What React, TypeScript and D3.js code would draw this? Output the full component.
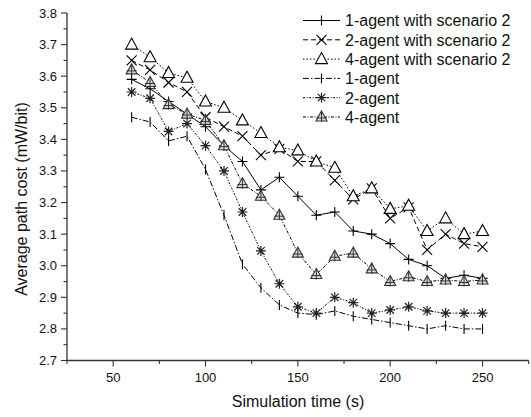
import React, { useEffect, useRef } from "react";
import * as d3 from "d3";

const times = [60, 70, 80, 90, 100, 110, 120, 130, 140, 150, 160, 170, 180, 190, 200, 210, 220, 230, 240, 250];

const oneAgentSc2 = [3.59, 3.56, 3.52, 3.48, 3.44, 3.38, 3.33, 3.24, 3.28, 3.22, 3.16, 3.17, 3.11, 3.10, 3.07, 3.02, 3.00, 2.96, 2.97, 2.96];
const twoAgentSc2 = [3.65, 3.62, 3.58, 3.55, 3.47, 3.44, 3.41, 3.35, 3.37, 3.33, 3.33, 3.27, 3.21, 3.245, 3.15, 3.185, 3.05, 3.10, 3.07, 3.06];
const fourAgentSc2 = [3.70, 3.66, 3.61, 3.595, 3.52, 3.50, 3.46, 3.42, 3.375, 3.365, 3.33, 3.31, 3.22, 3.245, 3.18, 3.19, 3.11, 3.15, 3.10, 3.11];
const oneAgent = [3.47, 3.455, 3.395, 3.41, 3.305, 3.16, 3.005, 2.93, 2.876, 2.85, 2.845, 2.857, 2.84, 2.83, 2.82, 2.81, 2.80, 2.81, 2.80, 2.80];
const twoAgent = [3.55, 3.53, 3.425, 3.45, 3.38, 3.30, 3.17, 3.047, 2.943, 2.87, 2.85, 2.90, 2.883, 2.85, 2.86, 2.87, 2.857, 2.85, 2.85, 2.85];
const fourAgent = [3.62, 3.58, 3.51, 3.48, 3.46, 3.38, 3.26, 3.22, 3.16, 3.04, 2.972, 3.03, 3.04, 2.99, 2.95, 2.965, 2.95, 2.955, 2.95, 2.955];

const seriesNames = [
  "1-agent with scenario 2",
  "2-agent with scenario 2",
  "4-agent with scenario 2",
  "1-agent",
  "2-agent",
  "4-agent",
];

const xTicks = [50, 100, 150, 200, 250];
const yTicks = [2.7, 2.8, 2.9, 3.0, 3.1, 3.2, 3.3, 3.4, 3.5, 3.6, 3.7, 3.8];

type MarkerKind = "plus" | "x" | "tri" | "vbar" | "star" | "triplus";

const seriesData = [oneAgentSc2, twoAgentSc2, fourAgentSc2, oneAgent, twoAgent, fourAgent];
const seriesDash = ["", "5,3", "1.5,2", "6,2,1.5,2", "2,1.5,1,1.5", "3,1.5,1,1.5"];
const seriesMarker: MarkerKind[] = ["plus", "x", "tri", "vbar", "star", "triplus"];

function drawMarker(g: any, kind: MarkerKind, x: number, y: number) {
  const m = g.append("g").attr("transform", `translate(${x},${y})`);
  const s = 5;
  if (kind === "plus") {
    m.append("path").attr("d", `M${-s},0H${s}M0,${-s}V${s}`).attr("stroke", "#000").attr("stroke-width", 1.1);
  } else if (kind === "x") {
    m.append("path").attr("d", `M${-s},${-s}L${s},${s}M${-s},${s}L${s},${-s}`).attr("stroke", "#000").attr("stroke-width", 1.1);
  } else if (kind === "tri") {
    m.append("path").attr("d", `M0,${-s - 1.5}L${s + 1},${s - 0.5}L${-s - 1},${s - 0.5}Z`).attr("stroke", "#000").attr("fill", "#fff").attr("stroke-width", 1.1);
  } else if (kind === "vbar") {
    m.append("path").attr("d", `M0,${-s}V${s}`).attr("stroke", "#000").attr("stroke-width", 1.1);
  } else if (kind === "star") {
    m.append("path")
      .attr("d", `M${-s},0H${s}M0,${-s}V${s}M${-s * 0.75},${-s * 0.75}L${s * 0.75},${s * 0.75}M${-s * 0.75},${s * 0.75}L${s * 0.75},${-s * 0.75}`)
      .attr("stroke", "#222").attr("stroke-width", 1.2);
  } else if (kind === "triplus") {
    m.append("path").attr("d", `M0,${-s - 1}L${s + 0.5},${s - 1}L${-s - 0.5},${s - 1}Z`).attr("stroke", "#333").attr("fill", "#ddd").attr("stroke-width", 1.1);
    m.append("path").attr("d", `M${-s},1H${s}M0,${-s}V${s}`).attr("stroke", "#333").attr("stroke-width", 1);
  }
}

export default function App() {
  const ref = useRef<SVGSVGElement>(null);

  useEffect(() => {
    const svg = d3.select(ref.current!);
    svg.selectAll("*").remove();
    const x = d3.scaleLinear().domain([25, 275]).range([67, 528.7]);
    const y = d3.scaleLinear().domain([2.7, 3.8]).range([360.5, 13]);
    const font = "'Liberation Sans', Arial, sans-serif";

    const root = svg.append("g");

    // series
    seriesData.forEach((vals, i) => {
      const pts = times.map((t, j) => [x(t), y(vals[j])] as [number, number]);
      const line = d3.line();
      root.append("path")
        .attr("d", line(pts)!)
        .attr("fill", "none")
        .attr("stroke", "#000")
        .attr("stroke-width", 1)
        .attr("stroke-dasharray", seriesDash[i] || null);
    });
    seriesData.forEach((vals, i) => {
      const g = root.append("g");
      times.forEach((t, j) => drawMarker(g, seriesMarker[i], x(t), y(vals[j])));
    });

    // axes
    const axisColor = "#333";
    const x0 = x(25);
    const yb = y(2.7);
    const xAxis = root.append("g").attr("transform", `translate(0,${yb})`);
    xAxis.append("line").attr("x1", x0).attr("x2", x(275)).attr("stroke", axisColor).attr("stroke-width", 1.3);
    d3.range(25, 276, 25).forEach((v) => {
      const major = xTicks.includes(v);
      xAxis.append("line").attr("x1", x(v)).attr("x2", x(v)).attr("y1", 0).attr("y2", major ? 6 : 3.5).attr("stroke", axisColor).attr("stroke-width", 1.1);
    });
    xTicks.forEach((v) => {
      xAxis.append("text").attr("x", x(v)).attr("y", 21.5).attr("text-anchor", "middle")
        .attr("font-family", font).attr("font-size", 13).attr("fill", "#111").text(String(v));
    });

    const yAxis = root.append("g");
    yAxis.append("line").attr("x1", x0).attr("x2", x0).attr("y1", y(3.8)).attr("y2", yb).attr("stroke", axisColor).attr("stroke-width", 1.3);
    d3.range(0, 23).forEach((k) => {
      const v = 2.7 + k * 0.05;
      const major = k % 2 === 0;
      yAxis.append("line").attr("x1", x0).attr("x2", x0 - (major ? 6 : 3.5)).attr("y1", y(v)).attr("y2", y(v)).attr("stroke", axisColor).attr("stroke-width", 1.1);
    });
    yTicks.forEach((v) => {
      yAxis.append("text").attr("x", 57).attr("y", y(v) + 4.5).attr("text-anchor", "end")
        .attr("font-family", font).attr("font-size", 13).attr("fill", "#111").text(v.toFixed(1));
    });

    root.append("text").attr("x", 298).attr("y", 407).attr("text-anchor", "middle")
      .attr("font-family", font).attr("font-size", 16).attr("fill", "#111").text("Simulation time (s)");
    root.append("text").attr("transform", "translate(27,199) rotate(-90)").attr("text-anchor", "middle")
      .attr("font-family", font).attr("font-size", 16).attr("fill", "#111").text("Average path cost (mW/bit)");

    // legend
    const lg = root.append("g");
    seriesNames.forEach((name, i) => {
      const ly = 20.5 + i * 19.3;
      lg.append("line").attr("x1", 303).attr("x2", 340).attr("y1", ly).attr("y2", ly)
        .attr("stroke", "#000").attr("stroke-dasharray", seriesDash[i] || null);
      drawMarker(lg, seriesMarker[i], 321.5, ly);
      lg.append("text").attr("x", 345).attr("y", ly + 5.8).attr("font-family", font).attr("font-size", 16)
        .attr("fill", "#111").text(name);
    });
  }, []);

  return (
    <svg
      ref={ref}
      width={531}
      height={417}
      style={{ position: "absolute", left: 0, top: 0, background: "#fff" }}
    />
  );
}
